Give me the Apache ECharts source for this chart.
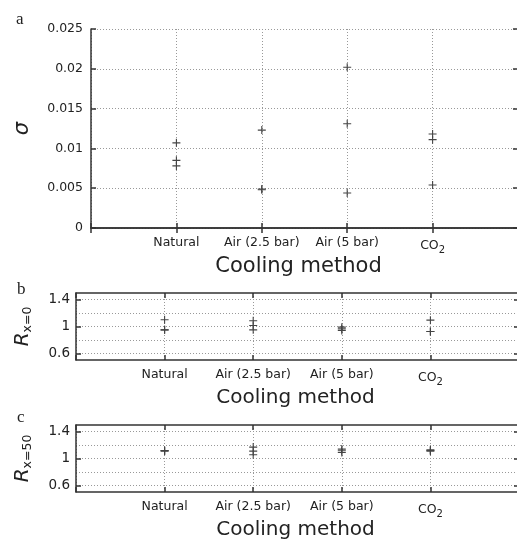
<!DOCTYPE html>
<html>
<head>
<meta charset="utf-8">
<script src="https://cdn.jsdelivr.net/npm/echarts@6/dist/echarts.min.js"></script>
<style>
  html, body { margin: 0; padding: 0; background: #fff; }
  #chart { width: 517px; height: 539px; }
</style>
</head>
<body>
<div id="chart"></div>
<script>
// cooling methods, one column each
const categories = ["Natural", "Air (2.5 bar)", "Air (5 bar)", "CO2"];

// three repeats per method
const sigmaValues = [
  [0.0107, 0.0085, 0.0078],
  [0.0123, 0.0049, 0.0048],
  [0.0202, 0.0131, 0.0044],
  [0.0118, 0.0111, 0.0054]
];
const rx0Values = [
  [1.10, 0.95, 0.95],
  [1.085, 1.015, 0.95],
  [0.99, 0.965, 0.94],
  [1.095, 0.925, 0.925]
];
const rx50Values = [
  [1.12, 1.115, 1.11],
  [1.17, 1.11, 1.055],
  [1.14, 1.09, 1.115],
  [1.13, 1.12, 1.11]
];

const ratioTicks = [0.6, 1, 1.4];
const ratioGrid = [0.6, 0.8, 1, 1.2, 1.4];

const FONT = "DejaVu Sans";
const INK = "#333";
const DOT = { color: "#999", width: 1, type: [1, 2] };
const PLUS = "path://M0,5L10,5M5,0L5,10";

const xCats = [""].concat(categories, [""]);

const chart = echarts.init(document.getElementById("chart"));

const grids = [], xAxes = [], yAxes = [], series = [];

function panel(rect, yOpt, yName, values, extraGrid) {
  const g = grids.length;
  grids.push(Object.assign({ containLabel: false, outerBoundsMode: "none" }, rect));

  const frameLine = { show: true, lineStyle: { color: INK, width: 1.5 } };
  const tick = { show: true, inside: true, length: 5, lineStyle: { color: INK, width: 1.5 } };

  // bottom category axis with labels and title
  const xb = xAxes.length;
  xAxes.push({
    gridIndex: g, type: "category", data: xCats, boundaryGap: false, position: "bottom",
    axisLine: frameLine,
    axisTick: Object.assign({ interval: 0 }, tick),
    axisLabel: {
      interval: 0, margin: 8, color: "#222", fontFamily: FONT, fontSize: 12.5,
      formatter: function (v) { return v === "CO2" ? "CO{sub|2}" : v; },
      rich: { sub: { fontFamily: FONT, fontSize: 10, padding: [9, 0, 0, 0], color: "#222" } }
    },
    splitLine: { show: true, interval: 0, lineStyle: DOT },
    name: "Cooling method", nameLocation: "middle", nameGap: yName.gap2,
    nameTextStyle: { fontFamily: FONT, fontSize: yName.titleSize, color: "#222", padding: yName.titlePad }
  });
  // top axis: frame and ticks only
  xAxes.push({
    gridIndex: g, type: "category", data: xCats, boundaryGap: false, position: "top",
    axisLine: frameLine, axisTick: Object.assign({ interval: 0 }, tick),
    axisLabel: { show: false }, splitLine: { show: false }
  });

  const yl = yAxes.length;
  yAxes.push(Object.assign({
    gridIndex: g, type: "value", position: "left",
    axisLine: frameLine, axisTick: tick,
    name: yName.text, nameLocation: "middle", nameGap: yName.gap, nameRotate: 90,
    nameTextStyle: { rich: yName.rich, fontFamily: FONT }
  }, yOpt.left));
  yAxes.push(Object.assign({
    gridIndex: g, type: "value", position: "right",
    axisLine: frameLine, axisTick: tick,
    axisLabel: { show: false }, splitLine: { show: false }
  }, yOpt.right));
  if (extraGrid) {
    yAxes.push(extraGrid(g));
  }

  const data = [];
  values.forEach(function (arr, i) {
    arr.forEach(function (v) { data.push([categories[i], v]); });
  });
  series.push({
    type: "scatter", xAxisIndex: xb, yAxisIndex: yl, data: data,
    symbol: PLUS, symbolSize: 8,
    itemStyle: { color: "rgba(0,0,0,0)", borderColor: "#444", borderWidth: 1.1, opacity: 1 },
    emphasis: { disabled: true }, z: 5
  });
}

const labelStyle = { color: "#222", fontFamily: FONT, fontSize: 12.5, margin: 8 };

// panel a
panel(
  { left: 91, top: 29, width: 427, height: 199 },
  {
    left: { min: 0, max: 0.025, interval: 0.005, axisLabel: labelStyle, splitLine: { show: true, lineStyle: DOT } },
    right: { min: 0, max: 0.025, interval: 0.005 }
  },
  {
    text: "{it|σ}", gap: 58, gap2: 28, titleSize: 21, titlePad: [0, 12, 0, 0],
    rich: { it: { fontFamily: FONT, fontStyle: "italic", fontSize: 21, color: "#222" } }
  },
  sigmaValues
);

function ratioPanel(top, sub, values) {
  const lab = Object.assign({}, labelStyle, {
    fontSize: 13.5, margin: 6, customValues: ratioTicks,
    formatter: function (v) { return String(+v.toFixed(1)); }
  });
  panel(
    { left: 76, top: top, width: 443, height: 67 },
    {
      left: { min: 0.5, max: 1.5, axisLabel: lab, axisTick: { show: true, inside: true, length: 5, customValues: ratioTicks, lineStyle: { color: INK, width: 1.5 } }, splitLine: { show: false } },
      right: { min: 0.5, max: 1.5, axisTick: { show: true, inside: true, length: 5, customValues: ratioTicks, lineStyle: { color: INK, width: 1.5 } } }
    },
    {
      text: "{it|R}{sub|" + sub + "}", gap: 42, gap2: 27, titleSize: 20, titlePad: [0, 4, 0, 0],
      rich: {
        it: { fontFamily: FONT, fontStyle: "italic", fontSize: 20, color: "#222" },
        sub: { fontFamily: FONT, fontSize: 12.5, color: "#222", padding: [10, 0, 0, 0] }
      }
    },
    values,
    function (g) {
      // gridlines every 0.2
      return {
        gridIndex: g, type: "value", position: "left", min: 0.5, max: 1.5,
        axisLine: { show: false }, axisLabel: { show: false },
        axisTick: { show: false, customValues: ratioGrid },
        splitLine: { show: true, lineStyle: DOT }
      };
    }
  );
}

ratioPanel(293, "x=0", rx0Values);
ratioPanel(425, "x=50", rx50Values);

const letter = { fontFamily: "Liberation Serif", fontSize: 17, fontWeight: "normal", color: "#222" };

chart.setOption({
  animation: false,
  backgroundColor: "#fff",
  title: [
    { text: "a", left: 11, top: 6, textStyle: letter },
    { text: "b", left: 12, top: 276, textStyle: letter },
    { text: "c", left: 12, top: 404, textStyle: letter }
  ],
  grid: grids,
  xAxis: xAxes,
  yAxis: yAxes,
  series: series
});
</script>
</body>
</html>
